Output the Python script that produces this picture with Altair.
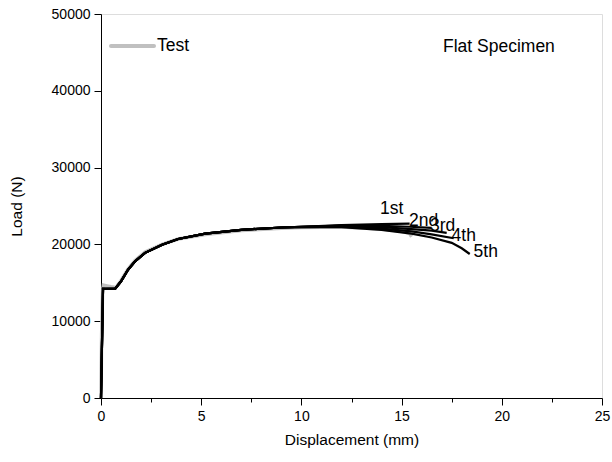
import altair as alt
import pandas as pd

# ---- data ----
test_x = [0.0, 0.03, 0.08, 0.12, 0.3, 0.5, 0.75, 1.0, 1.35, 1.7, 2.2, 3.05, 3.85, 5.2, 7.0, 9.0, 10.0, 12.0, 14.0, 15.0, 15.4, 15.5]
test_y = [0, 8000, 14000, 14700, 14600, 14500, 14400, 15300, 16800, 17900, 19000, 20000, 20700, 21300, 21800, 22100, 22200, 22250, 22000, 21700, 21400, 21000]

fe1_x = [0.0, 0.1, 0.4, 0.7, 1.0, 1.35, 1.7, 2.2, 3.05, 3.85, 5.2, 7.0, 9.0, 10.0, 12.0, 14.0, 15.4]
fe1_y = [0, 14200, 14200, 14200, 15200, 16700, 17800, 18900, 19950, 20700, 21400, 21900, 22200, 22300, 22500, 22650, 22700]

fe2_x = [0.0, 0.1, 0.4, 0.7, 1.0, 1.35, 1.7, 2.2, 3.05, 3.85, 5.2, 7.0, 9.0, 10.0, 12.0, 14.0, 15.4, 16.5]
fe2_y = [0, 14200, 14200, 14200, 15200, 16700, 17800, 18900, 19950, 20700, 21400, 21900, 22200, 22300, 22450, 22400, 22300, 22150]

fe3_x = [0.0, 0.1, 0.4, 0.7, 1.0, 1.35, 1.7, 2.2, 3.05, 3.85, 5.2, 7.0, 9.0, 10.0, 12.0, 14.0, 15.5, 16.5, 17.25]
fe3_y = [0, 14200, 14200, 14200, 15200, 16700, 17800, 18900, 19950, 20700, 21400, 21900, 22200, 22300, 22400, 22250, 22000, 21800, 21500]

fe4_x = [0.0, 0.1, 0.4, 0.7, 1.0, 1.35, 1.7, 2.2, 3.05, 3.85, 5.2, 7.0, 9.0, 10.0, 12.0, 14.0, 15.5, 16.5, 17.6]
fe4_y = [0, 14200, 14200, 14200, 15200, 16700, 17800, 18900, 19950, 20700, 21400, 21900, 22200, 22250, 22300, 22050, 21700, 21300, 20800]

fe5_x = [0.0, 0.1, 0.4, 0.7, 1.0, 1.35, 1.7, 2.2, 3.05, 3.85, 5.2, 7.0, 9.0, 10.0, 12.0, 14.0, 15.5, 16.5, 17.5, 18.0, 18.4]
fe5_y = [0, 14200, 14200, 14200, 15200, 16700, 17800, 18900, 19950, 20700, 21400, 21900, 22200, 22250, 22250, 21900, 21400, 20900, 20200, 19500, 18750]

curve_labels = ["1st", "2nd", "3rd", "4th", "5th"]
label_x = [14.5, 16.1, 17.05, 18.1, 19.2]
label_y = [24550, 23000, 22350, 21150, 19050]

x_ticks = [0, 5, 10, 15, 20, 25]
x_minor = [2.5, 7.5, 12.5, 17.5, 22.5]
y_ticks = [0, 10000, 20000, 30000, 40000, 50000]
y_minor = [5000, 15000, 25000, 35000, 45000]

# ---- build tables ----
fe_rows = []
for name, xs_, ys_ in zip(curve_labels, [fe1_x, fe2_x, fe3_x, fe4_x, fe5_x], [fe1_y, fe2_y, fe3_y, fe4_y, fe5_y]):
    for i, (a, b) in enumerate(zip(xs_, ys_)):
        fe_rows.append({"series": name, "order": i, "x": a, "y": b})
fe_df = pd.DataFrame(fe_rows)
test_df = pd.DataFrame({"x": test_x, "y": test_y, "order": list(range(len(test_x)))})
lab_df = pd.DataFrame({"label": curve_labels, "x": label_x, "y": label_y})

FONT = "Liberation Sans"

xaxis = alt.Axis(
    values=sorted(x_ticks + x_minor),
    labelExpr="datum.value % 5 === 0 ? datum.label : ''",
    tickSize={"condition": {"test": "datum.value % 5 === 0", "value": 7}, "value": 4},
    grid=False, title="Displacement (mm)", labelFont=FONT, titleFont=FONT,
    labelFontSize=14, titleFontSize=15.5, titleFontWeight="normal",
    labelColor="black", titleColor="black", tickColor="black", domainColor="black",
    labelPadding=4, titlePadding=9, labelFlush=False, labelOverlap=False,
)
yaxis = alt.Axis(
    values=sorted(y_ticks + y_minor),
    labelExpr="datum.value % 10000 === 0 ? datum.label : ''",
    format="d",
    tickSize={"condition": {"test": "datum.value % 10000 === 0", "value": 7}, "value": 4},
    grid=False, title="Load (N)", labelFont=FONT, titleFont=FONT,
    labelFontSize=14, titleFontSize=15.5, titleFontWeight="normal",
    labelColor="black", titleColor="black", tickColor="black", domainColor="black",
    labelPadding=4, titlePadding=27, labelFlush=False, labelOverlap=False,
)

xs = alt.Scale(domain=[0, 25], nice=False)
ys = alt.Scale(domain=[0, 50000], nice=False)

test_line = alt.Chart(test_df).mark_line(color="#c0c0c0", strokeWidth=3.5).encode(
    x=alt.X("x:Q", scale=xs, axis=xaxis),
    y=alt.Y("y:Q", scale=ys, axis=yaxis),
    order="order:Q",
)

fe_lines = alt.Chart(fe_df).mark_line(color="black", strokeWidth=2.2).encode(
    x="x:Q", y="y:Q", detail="series:N", order="order:Q",
)

labels = alt.Chart(lab_df).mark_text(font=FONT, fontSize=17.5, color="black").encode(
    x="x:Q", y="y:Q", text="label:N",
)

legend_line = alt.Chart(pd.DataFrame({"k": ["Test"]})).mark_rule(color="#c0c0c0", strokeWidth=4, strokeCap="round").encode(
    x=alt.value(10), x2=alt.value(53), y=alt.value(32),
)
legend_text = alt.Chart(pd.DataFrame({"k": ["Test"]})).mark_text(
    font=FONT, fontSize=17.5, align="left", baseline="middle", color="black"
).encode(x=alt.value(56), y=alt.value(32), text="k:N")
title_text = alt.Chart(pd.DataFrame({"k": ["Flat Specimen"]})).mark_text(
    font=FONT, fontSize=17.5, align="left", baseline="middle", color="black"
).encode(x=alt.value(342), y=alt.value(33), text="k:N")

chart = alt.layer(test_line, fe_lines, labels, legend_line, legend_text, title_text).properties(
    width=501, height=384,
    autosize=alt.AutoSizeParams(type="none"),
    padding={"left": 101, "top": 14, "right": 10, "bottom": 64},
).configure_view(stroke="black", strokeWidth=1).configure(background="white")

chart.save("out.html", embed_options={"renderer": "svg", "actions": False})
